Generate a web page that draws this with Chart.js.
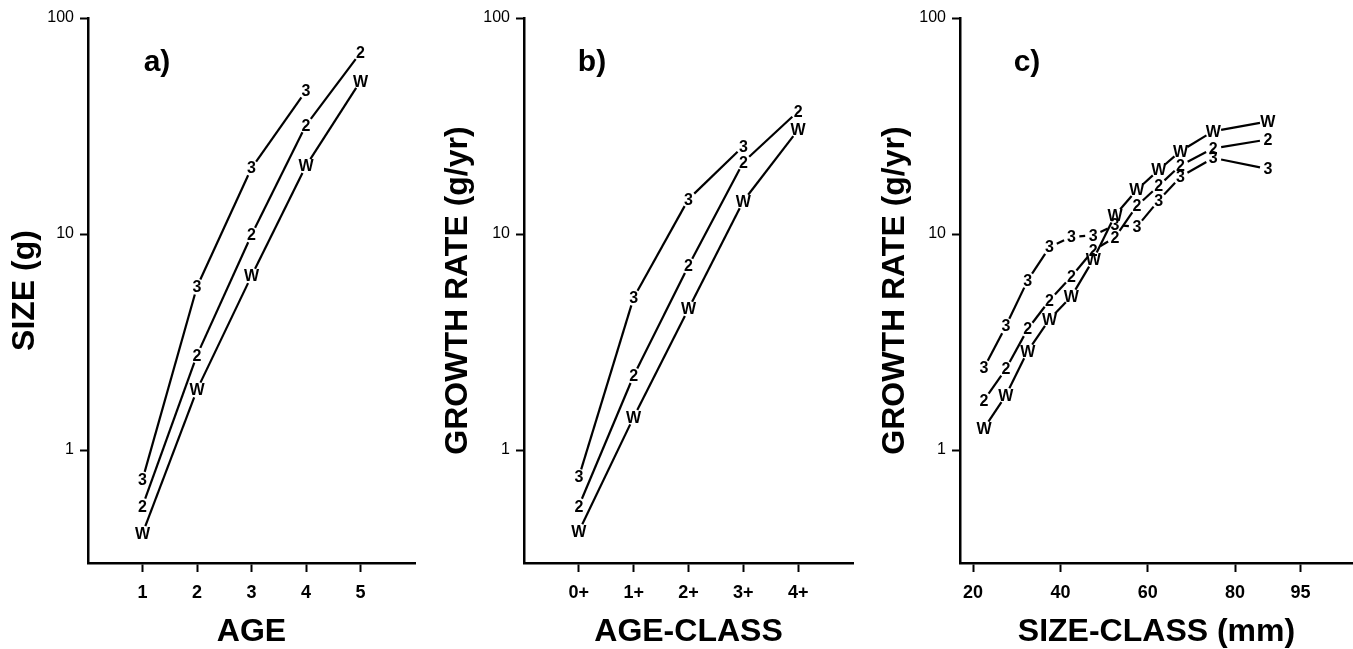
<!DOCTYPE html>
<html><head><meta charset="utf-8">
<script src="https://cdn.jsdelivr.net/npm/chart.js@4/dist/chart.umd.min.js"></script>
<style>
html,body{margin:0;padding:0;background:#fff;}
body{width:1353px;height:649px;position:relative;overflow:hidden;}
canvas{position:absolute;top:0;}
</style></head><body>
<canvas id="ca" width="420" height="649" style="left:0px"></canvas>
<canvas id="cb" width="440" height="649" style="left:420px"></canvas>
<canvas id="cc" width="493" height="649" style="left:860px"></canvas>
<script>
// ---- data ----
const seriesGlyphs = ['3', '2', 'W'];
const yTicks = [1, 10, 100];

// panel a: size by age
const ageA = [1, 2, 3, 4, 5];
const sizeA3 = [0.73, 5.7, 20.2, 46];
const sizeA2 = [0.55, 2.75, 9.9, 31.9, 69];
const sizeAW = [0.41, 1.9, 6.4, 20.7, 51];
const xTicksA = [1, 2, 3, 4, 5];

// panel b: growth rate by age-class
const ageClassB = [0, 1, 2, 3, 4];
const ageClassLabels = ['0+', '1+', '2+', '3+', '4+'];
const rateB3 = [0.75, 5.07, 14.5, 25.5];
const rateB2 = [0.55, 2.21, 7.13, 21.5, 37];
const rateBW = [0.42, 1.42, 4.5, 14.2, 30.4];

// panel c: growth rate by size-class (mm)
const sizeClassC = [22.5, 27.5, 32.5, 37.5, 42.5, 47.5, 52.5, 57.5, 62.5, 67.5, 75, 87.5];
const rateC3 = [2.4, 3.75, 6.1, 8.7, 9.7, 9.85, 11.0, 10.8, 14.3, 18.4, 22.5, 20.0];
const rateC2 = [1.7, 2.37, 3.63, 4.93, 6.35, 8.4, 9.64, 13.5, 16.7, 20.8, 24.9, 27.4];
const rateCW = [1.26, 1.79, 2.87, 4.03, 5.14, 7.6, 12.2, 16.0, 19.8, 24.2, 29.9, 33.2];
const xTicksC = [20, 40, 60, 80, 95];

const FAM = '"Liberation Sans", Arial, sans-serif';
Chart.defaults.font.family = FAM;
Chart.defaults.color = '#000';

const glyphPlugin = {
  id: 'glyphs',
  afterDatasetsDraw(chart) {
    const ctx = chart.ctx;
    ctx.save();
    chart.data.datasets.forEach((ds, i) => {
      const meta = chart.getDatasetMeta(i);
      const pts = meta.data.map(p => ({x: p.x, y: p.y}));
      const gap = 8;
      ctx.strokeStyle = '#000';
      ctx.lineWidth = 2.2;
      for (let k = 0; k < pts.length - 1; k++) {
        const a = pts[k], b = pts[k + 1];
        const dx = b.x - a.x, dy = b.y - a.y, L = Math.hypot(dx, dy);
        if (L <= 2 * gap) continue;
        const ux = dx / L, uy = dy / L;
        ctx.beginPath();
        ctx.moveTo(a.x + ux * gap, a.y + uy * gap);
        ctx.lineTo(b.x - ux * gap, b.y - uy * gap);
        ctx.stroke();
      }
      ctx.fillStyle = '#000';
      ctx.font = 'bold 16px ' + FAM;
      ctx.textAlign = 'center';
      ctx.textBaseline = 'middle';
      pts.forEach(p => ctx.fillText(ds.glyph, p.x, p.y + 1));
    });
    ctx.restore();
  }
};

const panelLabel = {
  id: 'panelLabel',
  afterDraw(chart, args, opts) {
    const {ctx, chartArea} = chart;
    ctx.save();
    ctx.font = 'bold 30px ' + FAM;
    ctx.textAlign = 'center';
    ctx.textBaseline = 'middle';
    ctx.fillStyle = '#000';
    ctx.fillText(opts.text, chartArea.left + opts.dx, chartArea.top + opts.dy);
    ctx.restore();
  }
};

function makeChart(id, cfg) {
  const datasets = cfg.series.map((vals, i) => ({
    label: seriesGlyphs[i],
    glyph: seriesGlyphs[i],
    data: vals.map((v, k) => ({x: cfg.x[k], y: v})),
    showLine: false, pointRadius: 0, pointHoverRadius: 0
  }));
  return new Chart(document.getElementById(id), {
    type: 'scatter',
    data: {datasets},
    plugins: [glyphPlugin, panelLabel],
    options: {
      responsive: false, animation: false, events: [],
      layout: {padding: {top: 18, right: cfg.padRight, left: 0, bottom: 0}},
      plugins: {
        legend: {display: false}, tooltip: {enabled: false},
        panelLabel: {text: cfg.panel, dx: cfg.labelDx, dy: 45}
      },
      scales: {
        x: {
          type: 'linear', min: cfg.xMin, max: cfg.xMax,
          afterBuildTicks: s => { s.ticks = cfg.xTicks.map(v => ({value: v})); },
          afterFit: s => { s.height = 86; },
          ticks: {callback: cfg.xFmt, color: '#000', font: {size: 18, weight: 'bold'}, padding: 10, maxRotation: 0, autoSkip: false},
          grid: {display: true, drawOnChartArea: false, drawTicks: true, tickLength: 9, tickColor: '#000', tickWidth: 2},
          border: {display: true, color: '#000', width: 2.5},
          title: {display: true, text: cfg.xTitle, color: '#000', font: {size: 32, weight: 'bold', lineHeight: 1}, padding: {top: 0, bottom: 1}}
        },
        y: {
          type: 'logarithmic', min: 0.32, max: 100,
          afterBuildTicks: s => { s.ticks = yTicks.map(v => ({value: v})); },
          afterFit: s => { s.width = cfg.yWidth; },
          ticks: {callback: v => String(v), color: '#000', font: {size: 16}, padding: 6, autoSkip: false},
          grid: {display: true, drawOnChartArea: false, drawTicks: true, tickLength: 8, tickColor: '#000', tickWidth: 2},
          border: {display: true, color: '#000', width: 2.5},
          title: {display: true, text: cfg.yTitle, color: '#000', font: {size: 32, weight: 'bold', lineHeight: 1}, padding: {top: cfg.yTitlePad, bottom: 0}}
        }
      }
    }
  });
}

makeChart('ca', {
  x: ageA, series: [sizeA3, sizeA2, sizeAW], xMin: 0, xMax: 6, xTicks: xTicksA,
  xFmt: v => String(v), xTitle: 'AGE', yTitle: 'SIZE (g)',
  yWidth: 88, yTitlePad: 9, padRight: 5, panel: 'a)', labelDx: 69
});
makeChart('cb', {
  x: ageClassB, series: [rateB3, rateB2, rateBW], xMin: -1, xMax: 5, xTicks: ageClassB,
  xFmt: v => ageClassLabels[ageClassB.indexOf(v)], xTitle: 'AGE-CLASS', yTitle: 'GROWTH RATE (g/yr)',
  yWidth: 104, yTitlePad: 22, padRight: 7, panel: 'b)', labelDx: 68
});
makeChart('cc', {
  x: sizeClassC, series: [rateC3, rateC2, rateCW], xMin: 17, xMax: 107, xTicks: xTicksC,
  xFmt: v => String(v), xTitle: 'SIZE-CLASS (mm)', yTitle: 'GROWTH RATE (g/yr)',
  yWidth: 100, yTitlePad: 19, padRight: 0, panel: 'c)', labelDx: 67
});
</script>
</body></html>
